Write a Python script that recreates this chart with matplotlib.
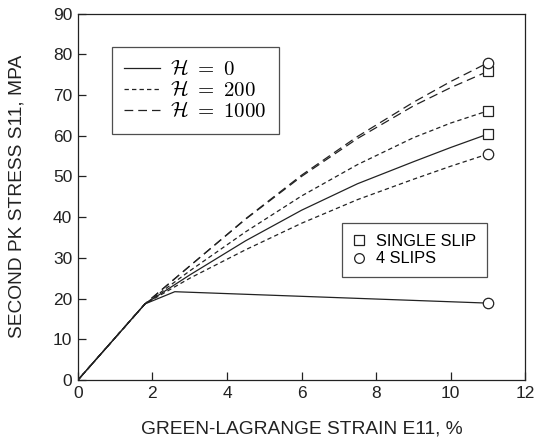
import matplotlib
matplotlib.use('Agg')
import matplotlib.pyplot as plt
from matplotlib.lines import Line2D

plt.rcParams['font.family'] = ['Liberation Sans', 'DejaVu Sans']
plt.rcParams['mathtext.fontset'] = 'cm'

# strain E11 (%) and stress S11 (MPa) for each hardening value
strain = [0, 1.8, 3, 4.5, 6, 7.5, 9, 10, 11]
single_h0 = [0, 18.7, 25.8, 34.2, 41.7, 48.2, 53.6, 57.1, 60.4]
single_h200 = [0, 18.7, 26.8, 36.4, 45.2, 52.9, 59.5, 63.1, 66.1]
single_h1000 = [0, 18.7, 28.0, 39.5, 50.0, 59.3, 67.3, 71.8, 75.8]
four_h200 = [0, 18.7, 25.0, 32.0, 38.5, 44.3, 49.3, 52.5, 55.5]
four_h1000 = [0, 18.7, 28.0, 39.6, 50.3, 59.8, 68.2, 73.3, 77.9]
strain_four_h0 = [0, 1.8, 2.6, 11]
four_h0 = [0, 18.7, 21.7, 18.9]

hard_labels = [r'$\mathcal{H}\ =\ 0$', r'$\mathcal{H}\ =\ 200$', r'$\mathcal{H}\ =\ 1000$']
styles = ['-', (0, (3.5, 2.5)), (0, (7, 4))]
slip_labels = ['SINGLE SLIP', '4 SLIPS']

fig = plt.figure(figsize=(5.37, 4.43), dpi=100)
ax = fig.add_axes([0.145, 0.142, 0.833, 0.8275])

lc = '#222222'
lw = 0.9
ms = 7.5
mk = dict(markerfacecolor='white', markeredgecolor=lc, markeredgewidth=0.9, markersize=ms, markevery=[-1])

ax.plot(strain, single_h0, color=lc, lw=lw, ls=styles[0], marker='s', **mk)
ax.plot(strain, single_h200, color=lc, lw=lw, ls=styles[1], marker='s', **mk)
ax.plot(strain, single_h1000, color=lc, lw=lw, ls=styles[2], marker='s', **mk)
ax.plot(strain_four_h0, four_h0, color=lc, lw=lw, ls=styles[0], marker='o', **mk)
ax.plot(strain, four_h200, color=lc, lw=lw, ls=styles[1], marker='o', **mk)
ax.plot(strain, four_h1000, color=lc, lw=lw, ls=styles[2], marker='o', **mk)

ax.set_xlim(0, 12)
ax.set_ylim(0, 90)
ax.set_xticks(range(0, 13, 2))
ax.set_yticks(range(0, 91, 10))
ax.tick_params(direction='in', length=6, width=0.9, labelsize=12.5, colors='#222222', pad=4)
for s in ax.spines.values():
    s.set_linewidth(0.9)
    s.set_color(lc)

ax.set_xlabel('GREEN-LAGRANGE STRAIN E11, %', fontsize=13.8, color='#222222', labelpad=14)
ax.set_ylabel('SECOND PK STRESS S11, MPA', fontsize=13.8, color='#222222', labelpad=20)

# legend for hardening values
h_handles = [Line2D([], [], color=lc, lw=lw, ls=st) for st in styles]
leg1 = ax.legend(h_handles, hard_labels, loc='upper left', bbox_to_anchor=(0.076, 0.909),
                 borderaxespad=0, fontsize=15, frameon=True, fancybox=False, edgecolor=lc,
                 handlelength=1.7, handletextpad=0.5, labelspacing=0.05, borderpad=0.6)
leg1.get_frame().set_linewidth(0.9)
ax.add_artist(leg1)

# legend for slip systems
s_handles = [Line2D([], [], ls='none', marker=m, markerfacecolor='white', markeredgecolor=lc,
                    markeredgewidth=0.9, markersize=7) for m in ['s', 'o']]
leg2 = ax.legend(s_handles, slip_labels, loc='upper left', bbox_to_anchor=(0.591, 0.428),
                 borderaxespad=0, fontsize=11.8, frameon=True, fancybox=False, edgecolor=lc,
                 handlelength=0.8, handletextpad=0.6, labelspacing=0.15, borderpad=0.65)
leg2.get_frame().set_linewidth(0.9)

fig.savefig('out.png', dpi=100)
